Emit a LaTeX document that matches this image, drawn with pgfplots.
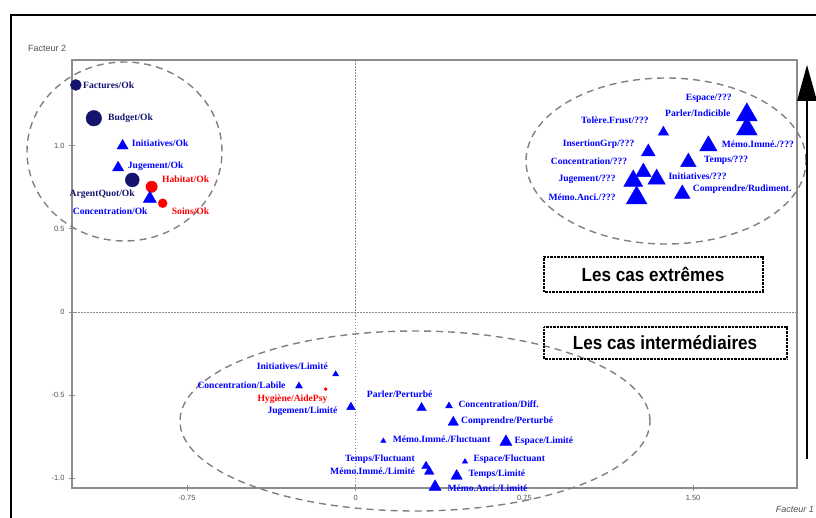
\documentclass[border=0pt]{standalone}
\usepackage{fontspec}
\setmainfont{Liberation Serif}
\setsansfont{Liberation Sans}
\usepackage{graphicx}
\usepackage{pgfplots}
\usepackage{pgfplotstable}
\pgfplotsset{compat=1.18}
\definecolor{navy}{RGB}{20,20,110}
\definecolor{tblue}{RGB}{0,0,255}
\definecolor{tred}{RGB}{255,0,0}
\definecolor{axgray}{RGB}{140,140,140}
\definecolor{txgray}{RGB}{80,80,80}
\definecolor{ellgray}{RGB}{128,128,128}

% triangles: x y size
\pgfplotstableread{
x y s
-1.036 0.999 6.4
-1.056 0.868 6.4
-0.915 0.682 7.5
1.739 1.185 12
1.739 1.100 12
1.368 1.081 6
1.568 0.999 10
1.301 0.962 8
1.479 0.901 9
1.279 0.841 9
1.338 0.799 10
1.234 0.788 11
1.452 0.710 9
1.249 0.686 12
-0.089 -0.374 3.5
-0.252 -0.445 4
-0.021 -0.572 5
0.293 -0.577 5.5
0.415 -0.565 4
0.434 -0.663 6
0.123 -0.775 3
0.668 -0.781 7
0.313 -0.927 5
0.486 -0.899 3
0.327 -0.959 5.5
0.449 -0.986 6.5
0.353 -1.051 7
}\tritable

% navy circles
\pgfplotstableread{
x y s
-1.244 1.365 5.5
-1.164 1.165 7.8
-0.993 0.794 7
}\navytable

% red circles
\pgfplotstableread{
x y s
-0.907 0.753 5.7
-0.858 0.654 4.5
-0.133 -0.463 1.5
}\redtable

\begin{document}
\begin{tikzpicture}[lab/.style={font=\bfseries\fontsize{9.6}{10}\selectfont, inner sep=0pt, anchor=west}]
\begin{axis}[
  at={(72pt,29pt)}, anchor=south west,
  width=725pt, height=428pt, scale only axis,
  xmin=-1.261, xmax=1.962, ymin=-1.058, ymax=1.515,
  clip=false,
  axis line style={axgray, line width=1.2pt},
  tick pos=left, tick align=center, major tick length=6pt,
  tick style={axgray, line width=0.8pt},
  xtick={-0.75,0,0.75,1.5}, xticklabels={-0.75,0,0.75,1.50},
  ytick={-1,-0.5,0,0.5,1}, yticklabels={-1.0,-0.5,0,0.5,1.0},
  ticklabel style={font=\sffamily\fontsize{7.5}{8}\selectfont, text=txgray},
  xticklabel style={yshift=-1pt},
  yticklabel style={xshift=-1pt},
]
\draw[axgray, line width=0.8pt, dash pattern=on 1.5pt off 1.5pt] (axis cs:0,-1.058) -- (axis cs:0,1.515);
\draw[axgray, line width=0.8pt, dash pattern=on 1.5pt off 1.5pt] (axis cs:-1.261,0) -- (axis cs:1.962,0);

\addplot[scatter, only marks, mark=*,
  visualization depends on={\thisrow{s}\as\msize},
  scatter/use mapped color={draw=navy, fill=navy},
  scatter/@pre marker code/.append style={/tikz/mark size=\msize}]
  table[x=x,y=y] {\navytable};
\addplot[scatter, only marks, mark=*,
  visualization depends on={\thisrow{s}\as\msize},
  scatter/use mapped color={draw=tred, fill=tred},
  scatter/@pre marker code/.append style={/tikz/mark size=\msize}]
  table[x=x,y=y] {\redtable};
\addplot[scatter, only marks, mark=triangle*,
  visualization depends on={\thisrow{s}\as\msize},
  scatter/use mapped color={draw=tblue, fill=tblue},
  scatter/@pre marker code/.append style={/tikz/mark size=\msize}]
  table[x=x,y=y] {\tritable};
\end{axis}

% ellipses
\draw[ellgray, line width=1.4pt, dash pattern=on 7pt off 5pt] (124.5pt,365.5pt) ellipse [x radius=97.5pt, y radius=89.5pt];
\draw[ellgray, line width=1.4pt, dash pattern=on 7pt off 5pt] (666pt,356pt) ellipse [x radius=140pt, y radius=83pt];
\draw[ellgray, line width=1.4pt, dash pattern=on 7pt off 5pt] (415pt,96pt) ellipse [x radius=235pt, y radius=90pt];

% labels top-left
\node[lab, text=navy] at (83pt,432pt) {Factures/Ok};
\node[lab, text=navy] at (108pt,398.7pt) {Budget/Ok};
\node[lab, text=navy, anchor=east] at (135pt,322.7pt) {ArgentQuot/Ok};
\node[lab, text=tblue] at (131.7pt,373.7pt) {Initiatives/Ok};
\node[lab, text=tblue] at (127.7pt,351pt) {Jugement/Ok};
\node[lab, text=tblue] at (72.7pt,305.3pt) {Concentration/Ok};
\node[lab, text=tred] at (162pt,337.3pt) {Habitat/Ok};
\node[lab, text=tred] at (171.7pt,305.3pt) {Soins/Ok};

% labels top-right
\node[lab, text=tblue] at (685.7pt,418.7pt) {Espace/???};
\node[lab, text=tblue] at (665pt,403.7pt) {Parler/Indicible};
\node[lab, text=tblue] at (581pt,396.3pt) {Tolère.Frust/???};
\node[lab, text=tblue] at (562.7pt,372.7pt) {InsertionGrp/???};
\node[lab, text=tblue] at (721.7pt,372.7pt) {Mémo.Immé./???};
\node[lab, text=tblue] at (704pt,357pt) {Temps/???};
\node[lab, text=tblue] at (550.7pt,355.3pt) {Concentration/???};
\node[lab, text=tblue] at (668.3pt,341pt) {Initiatives/???};
\node[lab, text=tblue] at (558.3pt,337.7pt) {Jugement/???};
\node[lab, text=tblue] at (692.7pt,327.7pt) {Comprendre/Rudiment.};
\node[lab, text=tblue] at (548.3pt,319.7pt) {Mémo.Anci./???};

% labels bottom
\node[lab, text=tblue] at (256.7pt,151pt) {Initiatives/Limité};
\node[lab, text=tblue] at (197.3pt,132pt) {Concentration/Labile};
\node[lab, text=tred] at (257.3pt,117.7pt) {Hygiène/AidePsy};
\node[lab, text=tblue] at (267.3pt,105.3pt) {Jugement/Limité};
\node[lab, text=tblue] at (366.7pt,122.7pt) {Parler/Perturbé};
\node[lab, text=tblue] at (458.3pt,112.7pt) {Concentration/Diff.};
\node[lab, text=tblue] at (461pt,96.3pt) {Comprendre/Perturbé};
\node[lab, text=tblue] at (392.7pt,77.7pt) {Mémo.Immé./Fluctuant};
\node[lab, text=tblue] at (514.3pt,76pt) {Espace/Limité};
\node[lab, text=tblue] at (345pt,58pt) {Temps/Fluctuant};
\node[lab, text=tblue] at (473.3pt,57.7pt) {Espace/Fluctuant};
\node[lab, text=tblue] at (330pt,45.3pt) {Mémo.Immé./Limité};
\node[lab, text=tblue] at (468.3pt,42.7pt) {Temps/Limité};
\node[lab, text=tblue] at (447.3pt,28.7pt) {Mémo.Anci./Limité};

% axis names
\node[font=\sffamily\fontsize{9}{10}\selectfont, text=txgray, anchor=west, inner sep=0pt] at (28pt,469pt) {Facteur 2};
\node[font=\sffamily\itshape\fontsize{9}{10}\selectfont, text=txgray, anchor=east, inner sep=0pt] at (814pt,8pt) {Facteur 1};

% boxes
\draw[black, line width=1.3pt, dash pattern=on 0.7pt off 0.7pt] (544pt,225pt) rectangle (763pt,260pt);
\node[font=\sffamily\bfseries\fontsize{19}{20}\selectfont, inner sep=0pt] at (653pt,242.5pt) {\scalebox{0.9}[1]{Les cas extrêmes}};
\draw[black, line width=1.3pt, dash pattern=on 0.7pt off 0.7pt] (544pt,158pt) rectangle (787pt,190pt);
\node[font=\sffamily\bfseries\fontsize{19}{20}\selectfont, inner sep=0pt] at (665pt,174pt) {\scalebox{0.9}[1]{Les cas intermédiaires}};

% outer frame and arrow
\draw[black, line width=2pt] (11pt,-2pt) -- (11pt,502pt) -- (830pt,502pt);
\draw[black, line width=2.2pt] (807pt,58pt) -- (807pt,420pt);
\fill[black] (807pt,452pt) -- (797pt,416pt) -- (817pt,416pt) -- cycle;

\pgfresetboundingbox
\path (0pt,0pt) rectangle (816pt,517pt);
\end{tikzpicture}
\end{document}
